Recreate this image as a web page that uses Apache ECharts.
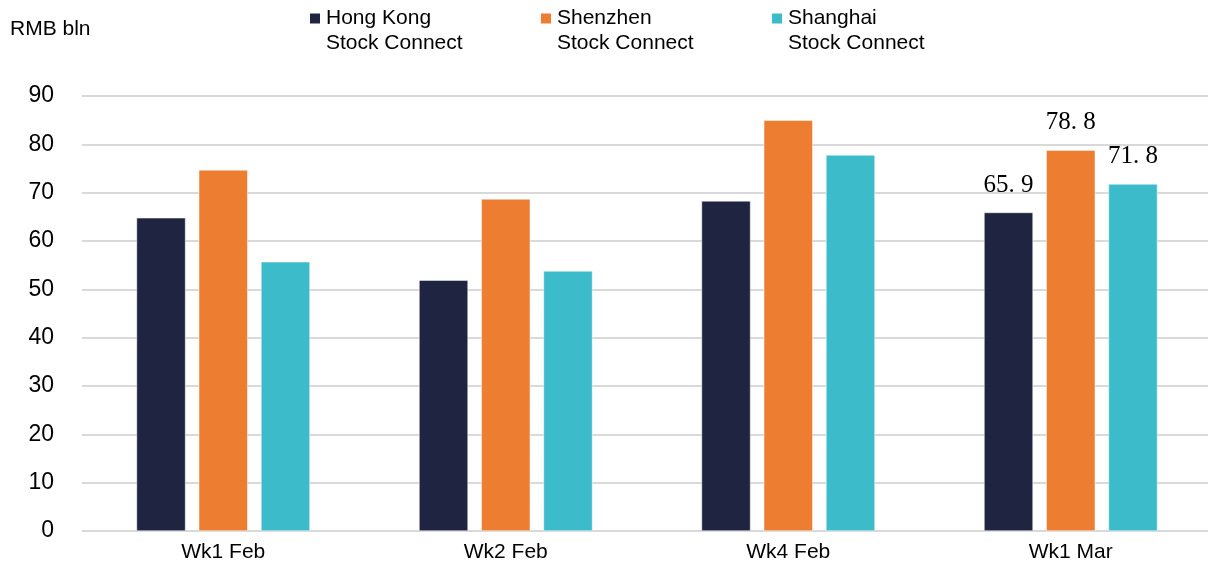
<!DOCTYPE html>
<html>
<head>
<meta charset="utf-8">
<script src="https://cdn.jsdelivr.net/npm/echarts@6/dist/echarts.min.js"></script>
<style>
  html, body { margin: 0; padding: 0; background: #fff; }
  #chart { width: 1208px; height: 567px; }
</style>
</head>
<body>
<div id="chart"></div>
<script>
const weeks = ["Wk1 Feb", "Wk2 Feb", "Wk4 Feb", "Wk1 Mar"];
const hongKong = [64.8, 51.9, 68.3, 65.9];
const shenzhen = [74.7, 68.7, 85.0, 78.8];
const shanghai = [55.7, 53.8, 77.8, 71.8];
const yTicks = [0, 10, 20, 30, 40, 50, 60, 70, 80, 90];

const font = "Liberation Sans, Arial, sans-serif";
const chart = echarts.init(document.getElementById("chart"));

// only the last week carries value labels
const lastLabel = (i) => ({
  show: i === weeks.length - 1,
  position: "top",
  distance: 15,
  color: "#000",
  fontFamily: "Liberation Serif, Times New Roman, serif",
  fontSize: 25,
  formatter: (p) => String(p.value).replace(".", ". "),
});

const makeSeries = (name, values, color) => ({
  name: name,
  type: "bar",
  barWidth: 49,
  barGap: "27%",
  itemStyle: { color: color, borderColor: "#fff", borderWidth: 0.5 },
  data: values.map((v, i) => ({ value: v, label: lastLabel(i) })),
});

chart.setOption({
  animation: false,
  textStyle: { fontFamily: font },
  title: {
    text: "RMB bln",
    left: 5,
    top: 14,
    textStyle: { fontSize: 21, fontWeight: "normal", color: "#000", fontFamily: font },
  },
  legend: {
    left: 303,
    top: -24,
    icon: "rect",
    itemWidth: 12,
    itemHeight: 12,
    itemGap: 8,
    textStyle: {
      fontFamily: font,
      fontSize: 21,
      color: "#000",
      lineHeight: 25,
      width: 205,
    },
    // leading blank line keeps the swatch level with the first text line
    formatter: (name) => "\n" + name.replace(" Stock", "\nStock"),
  },
  grid: { left: 82, top: 96, width: 1130, bottom: 36, outerBoundsMode: "none" },
  xAxis: {
    type: "category",
    data: weeks,
    axisTick: { show: false },
    axisLine: { show: false },
    axisLabel: { fontSize: 21, color: "#000", margin: 11, fontFamily: font },
  },
  yAxis: {
    type: "value",
    min: yTicks[0],
    max: yTicks[yTicks.length - 1],
    interval: 10,
    axisLine: { show: false },
    axisTick: { show: false },
    axisLabel: { fontSize: 23, color: "#000", margin: 28, fontFamily: font },
    splitLine: { lineStyle: { color: "#d9d9d9", width: 2 } },
  },
  series: [
    makeSeries("Hong Kong Stock Connect", hongKong, "#1f2440"),
    makeSeries("Shenzhen Stock Connect", shenzhen, "#ed7d31"),
    makeSeries("Shanghai Stock Connect", shanghai, "#3cbbcb"),
  ],
});
</script>
</body>
</html>
